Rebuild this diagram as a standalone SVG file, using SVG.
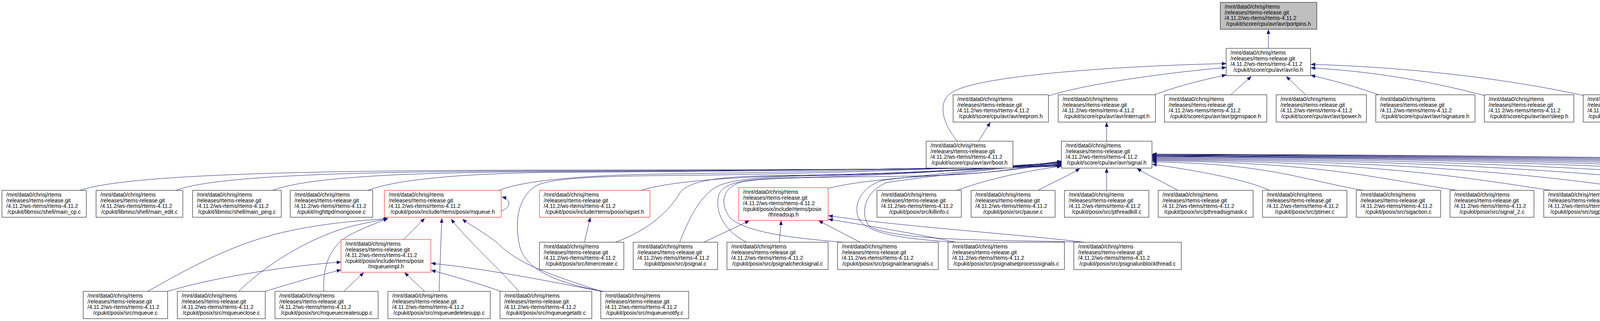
<svg xmlns="http://www.w3.org/2000/svg" width="6837" height="823" viewBox="0 0 6837 823">
<style>
.n rect{fill:#fff;stroke:#000;stroke-width:1}
.r rect{stroke:#ff0000}
.top rect{fill:#bfbfbf}
text{font-family:"Liberation Sans",Arial,sans-serif;font-size:14px;fill:#000}
.c{text-anchor:middle}
#edges path{fill:none;stroke:#191970;stroke-width:1;marker-end:url(#ah)}
</style>
<defs>
<marker id="ah" viewBox="0 0 11 9" refX="11" refY="4.5" markerWidth="11" markerHeight="9" orient="auto" markerUnits="userSpaceOnUse"><path d="M0,0 L11,4.5 L0,9 Z" fill="#191970" stroke="#191970" stroke-width="0.5"/></marker>
</defs>
<rect width="6837" height="823" fill="#fff"/>
<g id="edges">
<path d="M3247,124 L3247,76"/>
<path d="M2684,246 C2780,215 2980,187 3139,173"/>
<path d="M2956,243 C3020,218 3090,203 3139,192"/>
<path d="M3151,243 L3203,196"/>
<path d="M3342,243 L3293,196"/>
<path d="M3529,243 C3480,225 3420,208 3356,193"/>
<path d="M3800,245 C3650,205 3500,182 3356,174"/>
<path d="M4055,245 C3850,200 3600,172 3356,165"/>
<path d="M2451,362 C2415,320 2395,260 2440,235 C2520,190 2900,168 3139,163"/>
<path d="M2505,362 L2535,314"/>
<path d="M2833,362 L2833,314"/>
<path d="M3250,488 C3190,460 3060,437 2950,421"/>
<path d="M3490,488 C3328,460 3252,420 2950,415"/>
<path d="M3730,488 C3510,455 3387,417 2950,412"/>
<path d="M3970,488 C3750,455 3521,415 2950,410"/>
<path d="M4210,488 C3990,455 3656,413 2950,408"/>
<path d="M4455,488 C4235,455 3793,411 2950,406"/>
<path d="M4695,488 C4475,455 3927,409 2950,404"/>
<path d="M4938,488 C4718,455 4063,407 2950,402"/>
<path d="M5178,488 C4958,455 4198,406 2950,401"/>
<path d="M5418,488 C5198,455 4332,405 2950,400"/>
<path d="M5658,488 C5438,455 4466,404 2950,399"/>
<path d="M5898,488 C5678,455 4601,403 2950,398"/>
<path d="M6138,488 C5918,455 4735,402 2950,397"/>
<path d="M6378,488 C6158,455 4870,401 2950,396"/>
<path d="M6618,488 C6398,455 5004,400 2950,395"/>
<path d="M3015,488 C2975,465 2940,450 2911,432"/>
<path d="M2833,488 L2833,432"/>
<path d="M2658,488 C2700,465 2740,448 2764,432"/>
<path d="M2450,488 C2530,458 2630,438 2717,426"/>
<path d="M204,488 C330,446 800,437 1400,436 C2000,435 2550,434 2717,426"/>
<path d="M451,488 C550,450 900,440 1400,438 C2000,437 2550,433 2717,425"/>
<path d="M698,488 C790,453 1050,442 1400,440 C2000,438 2550,431 2717,424"/>
<path d="M942,488 C1020,458 1200,445 1400,442 C2000,439 2550,430 2717,423"/>
<path d="M1278,488 C1340,462 1500,449 1700,446 C2100,441 2550,428 2717,422"/>
<path d="M1642,488 C1720,463 1900,452 2100,449 C2400,444 2600,427 2717,421"/>
<path d="M2120,483 C2200,462 2350,452 2450,447 C2580,440 2660,425 2717,419"/>
<path d="M1576,621 C1660,590 1715,540 1740,495 C1765,462 1840,452 2000,450 C2350,446 2600,426 2717,418"/>
<path d="M1740,621 C1760,570 1790,500 1840,476 C1890,455 2000,452 2100,450 C2400,445 2600,424 2717,417"/>
<path d="M1911,621 C1850,590 1830,540 1840,500 C1850,470 1900,460 2000,456 C2350,450 2600,424 2717,416"/>
<path d="M2158,621 C2050,612 1920,600 1870,560 C1840,520 1850,480 1900,466 C1980,452 2200,455 2400,450 C2550,445 2650,424 2717,415"/>
<path d="M2440,621 C2350,614 2240,606 2205,570 C2180,540 2195,482 2260,462 C2400,445 2600,428 2717,414"/>
<path d="M2765,621 C2600,614 2300,622 2225,580 C2200,545 2215,490 2270,468 C2400,448 2600,430 2717,413"/>
<path d="M1545,747 C1420,725 1345,690 1330,630 C1315,560 1330,500 1375,475 C1420,455 1550,452 1700,450 C2100,447 2550,428 2717,417"/>
<path d="M1283,541 C1306,534 1312,512 1285,505"/>
<path d="M1033,614 L1087,560"/>
<path d="M378,747 C480,690 600,620 750,590 C870,566 950,565 993,560"/>
<path d="M611,747 C700,660 820,600 900,580 C950,568 975,565 993,560"/>
<path d="M829,747 C826,690 840,630 900,600 C940,580 970,570 993,560"/>
<path d="M1124,747 L1131,560"/>
<path d="M1328,747 C1280,690 1200,620 1155,562"/>
<path d="M1538,747 C1400,700 1330,680 1270,620 C1230,590 1200,575 1184,562"/>
<path d="M429,747 C550,710 750,680 873,672"/>
<path d="M679,747 C750,725 820,705 873,692"/>
<path d="M880,747 L931,699"/>
<path d="M1087,747 L1036,699"/>
<path d="M1282,747 C1220,725 1160,708 1104,693"/>
<path d="M1540,747 C1400,720 1250,690 1104,675"/>
<path d="M1802,621 L1918,566"/>
<path d="M1995,621 L2000,566"/>
<path d="M2202,621 L2096,566"/>
<path d="M2447,621 C2350,600 2200,575 2121,562"/>
<path d="M2775,621 C2600,600 2300,580 2121,553"/>
<path d="M1496,621 L1511,558"/>
</g>
<g id="n-portpins" class="n top"><rect x="3124" y="6" width="247" height="69"/><text><tspan x="3135" y="22">/mnt/data0/chrisj/rtems</tspan><tspan x="3135" y="36.6">/releases/rtems-release.git</tspan><tspan x="3135" y="51.2">/4.11.2/ws-rtems/rtems-4.11.2</tspan></text><text class="c" x="3247.5" y="65.8">/cpukit/score/cpu/avr/avr/portpins.h</text></g>
<g id="n-io" class="n"><rect x="3139" y="124" width="216" height="70"/><text><tspan x="3150" y="140">/mnt/data0/chrisj/rtems</tspan><tspan x="3150" y="154.6">/releases/rtems-release.git</tspan><tspan x="3150" y="169.2">/4.11.2/ws-rtems/rtems-4.11.2</tspan></text><text class="c" x="3247" y="183.8">/cpukit/score/cpu/avr/avr/io.h</text></g>
<g id="n-eeprom" class="n"><rect x="2440" y="243" width="244" height="70"/><text><tspan x="2451" y="259">/mnt/data0/chrisj/rtems</tspan><tspan x="2451" y="273.6">/releases/rtems-release.git</tspan><tspan x="2451" y="288.2">/4.11.2/ws-rtems/rtems-4.11.2</tspan></text><text class="c" x="2562" y="302.8">/cpukit/score/cpu/avr/avr/eeprom.h</text></g>
<g id="n-interrupt" class="n"><rect x="2709" y="243" width="249" height="70"/><text><tspan x="2720" y="259">/mnt/data0/chrisj/rtems</tspan><tspan x="2720" y="273.6">/releases/rtems-release.git</tspan><tspan x="2720" y="288.2">/4.11.2/ws-rtems/rtems-4.11.2</tspan></text><text class="c" x="2833.5" y="302.8">/cpukit/score/cpu/avr/avr/interrupt.h</text></g>
<g id="n-pgmspace" class="n"><rect x="2981" y="243" width="262" height="70"/><text><tspan x="2992" y="259">/mnt/data0/chrisj/rtems</tspan><tspan x="2992" y="273.6">/releases/rtems-release.git</tspan><tspan x="2992" y="288.2">/4.11.2/ws-rtems/rtems-4.11.2</tspan></text><text class="c" x="3112" y="302.8">/cpukit/score/cpu/avr/avr/pgmspace.h</text></g>
<g id="n-power" class="n"><rect x="3267" y="243" width="231" height="70"/><text><tspan x="3278" y="259">/mnt/data0/chrisj/rtems</tspan><tspan x="3278" y="273.6">/releases/rtems-release.git</tspan><tspan x="3278" y="288.2">/4.11.2/ws-rtems/rtems-4.11.2</tspan></text><text class="c" x="3382.5" y="302.8">/cpukit/score/cpu/avr/avr/power.h</text></g>
<g id="n-signature" class="n"><rect x="3522" y="243" width="254" height="70"/><text><tspan x="3533" y="259">/mnt/data0/chrisj/rtems</tspan><tspan x="3533" y="273.6">/releases/rtems-release.git</tspan><tspan x="3533" y="288.2">/4.11.2/ws-rtems/rtems-4.11.2</tspan></text><text class="c" x="3649" y="302.8">/cpukit/score/cpu/avr/avr/signature.h</text></g>
<g id="n-sleep" class="n"><rect x="3800" y="243" width="229" height="70"/><text><tspan x="3811" y="259">/mnt/data0/chrisj/rtems</tspan><tspan x="3811" y="273.6">/releases/rtems-release.git</tspan><tspan x="3811" y="288.2">/4.11.2/ws-rtems/rtems-4.11.2</tspan></text><text class="c" x="3914.5" y="302.8">/cpukit/score/cpu/avr/avr/sleep.h</text></g>
<g id="n-wdt" class="n"><rect x="4053" y="243" width="216" height="70"/><text><tspan x="4064" y="259">/mnt/data0/chrisj/rtems</tspan><tspan x="4064" y="273.6">/releases/rtems-release.git</tspan><tspan x="4064" y="288.2">/4.11.2/ws-rtems/rtems-4.11.2</tspan></text><text class="c" x="4161" y="302.8">/cpukit/score/cpu/avr/avr/wdt.h</text></g>
<g id="n-boot" class="n"><rect x="2371" y="362" width="222" height="69"/><text><tspan x="2382" y="378">/mnt/data0/chrisj/rtems</tspan><tspan x="2382" y="392.6">/releases/rtems-release.git</tspan><tspan x="2382" y="407.2">/4.11.2/ws-rtems/rtems-4.11.2</tspan></text><text class="c" x="2482" y="421.8">/cpukit/score/cpu/avr/avr/boot.h</text></g>
<g id="n-signal" class="n"><rect x="2717" y="362" width="232" height="69"/><text><tspan x="2728" y="378">/mnt/data0/chrisj/rtems</tspan><tspan x="2728" y="392.6">/releases/rtems-release.git</tspan><tspan x="2728" y="407.2">/4.11.2/ws-rtems/rtems-4.11.2</tspan></text><text class="c" x="2833" y="421.8">/cpukit/score/cpu/avr/avr/signal.h</text></g>
<g id="n-main_cp" class="n"><rect x="5" y="488" width="216" height="69"/><text><tspan x="16" y="504">/mnt/data0/chrisj/rtems</tspan><tspan x="16" y="518.6">/releases/rtems-release.git</tspan><tspan x="16" y="533.2">/4.11.2/ws-rtems/rtems-4.11.2</tspan></text><text class="c" x="113" y="547.8">/cpukit/libmisc/shell/main_cp.c</text></g>
<g id="n-main_edit" class="n"><rect x="246" y="488" width="222" height="69"/><text><tspan x="257" y="504">/mnt/data0/chrisj/rtems</tspan><tspan x="257" y="518.6">/releases/rtems-release.git</tspan><tspan x="257" y="533.2">/4.11.2/ws-rtems/rtems-4.11.2</tspan></text><text class="c" x="357" y="547.8">/cpukit/libmisc/shell/main_edit.c</text></g>
<g id="n-main_ping" class="n"><rect x="493" y="488" width="227" height="69"/><text><tspan x="504" y="504">/mnt/data0/chrisj/rtems</tspan><tspan x="504" y="518.6">/releases/rtems-release.git</tspan><tspan x="504" y="533.2">/4.11.2/ws-rtems/rtems-4.11.2</tspan></text><text class="c" x="606.5" y="547.8">/cpukit/libmisc/shell/main_ping.c</text></g>
<g id="n-mongoose" class="n"><rect x="743" y="488" width="211" height="69"/><text><tspan x="754" y="504">/mnt/data0/chrisj/rtems</tspan><tspan x="754" y="518.6">/releases/rtems-release.git</tspan><tspan x="754" y="533.2">/4.11.2/ws-rtems/rtems-4.11.2</tspan></text><text class="c" x="848.5" y="547.8">/cpukit/mghttpd/mongoose.c</text></g>
<g id="n-mqueue_h" class="n r"><rect x="984" y="488" width="299" height="69"/><text><tspan x="995" y="504">/mnt/data0/chrisj/rtems</tspan><tspan x="995" y="518.6">/releases/rtems-release.git</tspan><tspan x="995" y="533.2">/4.11.2/ws-rtems/rtems-4.11.2</tspan></text><text class="c" x="1133.5" y="547.8">/cpukit/posix/include/rtems/posix/mqueue.h</text></g>
<g id="n-sigset" class="n r"><rect x="1381" y="488" width="283" height="69"/><text><tspan x="1392" y="504">/mnt/data0/chrisj/rtems</tspan><tspan x="1392" y="518.6">/releases/rtems-release.git</tspan><tspan x="1392" y="533.2">/4.11.2/ws-rtems/rtems-4.11.2</tspan></text><text class="c" x="1522.5" y="547.8">/cpukit/posix/include/rtems/posix/sigset.h</text></g>
<g id="n-threadsup" class="n r"><rect x="1891" y="481" width="229" height="84"/><text><tspan x="1902" y="497">/mnt/data0/chrisj/rtems</tspan><tspan x="1902" y="511.6">/releases/rtems-release.git</tspan><tspan x="1902" y="526.2">/4.11.2/ws-rtems/rtems-4.11.2</tspan><tspan x="1902" y="540.8">/cpukit/posix/include/rtems/posix</tspan></text><text class="c" x="2005.5" y="555.4">/threadsup.h</text></g>
<g id="n-killinfo" class="n"><rect x="2245" y="488" width="216" height="69"/><text><tspan x="2256" y="504">/mnt/data0/chrisj/rtems</tspan><tspan x="2256" y="518.6">/releases/rtems-release.git</tspan><tspan x="2256" y="533.2">/4.11.2/ws-rtems/rtems-4.11.2</tspan></text><text class="c" x="2353" y="547.8">/cpukit/posix/src/killinfo.c</text></g>
<g id="n-pause" class="n"><rect x="2486" y="488" width="215" height="69"/><text><tspan x="2497" y="504">/mnt/data0/chrisj/rtems</tspan><tspan x="2497" y="518.6">/releases/rtems-release.git</tspan><tspan x="2497" y="533.2">/4.11.2/ws-rtems/rtems-4.11.2</tspan></text><text class="c" x="2593.5" y="547.8">/cpukit/posix/src/pause.c</text></g>
<g id="n-pthreadkill" class="n"><rect x="2725" y="488" width="216" height="69"/><text><tspan x="2736" y="504">/mnt/data0/chrisj/rtems</tspan><tspan x="2736" y="518.6">/releases/rtems-release.git</tspan><tspan x="2736" y="533.2">/4.11.2/ws-rtems/rtems-4.11.2</tspan></text><text class="c" x="2833" y="547.8">/cpukit/posix/src/pthreadkill.c</text></g>
<g id="n-pthreadsigmask" class="n"><rect x="2965" y="488" width="243" height="69"/><text><tspan x="2976" y="504">/mnt/data0/chrisj/rtems</tspan><tspan x="2976" y="518.6">/releases/rtems-release.git</tspan><tspan x="2976" y="533.2">/4.11.2/ws-rtems/rtems-4.11.2</tspan></text><text class="c" x="3086.5" y="547.8">/cpukit/posix/src/pthreadsigmask.c</text></g>
<g id="n-ptimer" class="n"><rect x="3232" y="488" width="216" height="69"/><text><tspan x="3243" y="504">/mnt/data0/chrisj/rtems</tspan><tspan x="3243" y="518.6">/releases/rtems-release.git</tspan><tspan x="3243" y="533.2">/4.11.2/ws-rtems/rtems-4.11.2</tspan></text><text class="c" x="3340" y="547.8">/cpukit/posix/src/ptimer.c</text></g>
<g id="n-sigaction" class="n"><rect x="3472" y="488" width="216" height="69"/><text><tspan x="3483" y="504">/mnt/data0/chrisj/rtems</tspan><tspan x="3483" y="518.6">/releases/rtems-release.git</tspan><tspan x="3483" y="533.2">/4.11.2/ws-rtems/rtems-4.11.2</tspan></text><text class="c" x="3580" y="547.8">/cpukit/posix/src/sigaction.c</text></g>
<g id="n-signal_2" class="n"><rect x="3712" y="488" width="215" height="69"/><text><tspan x="3723" y="504">/mnt/data0/chrisj/rtems</tspan><tspan x="3723" y="518.6">/releases/rtems-release.git</tspan><tspan x="3723" y="533.2">/4.11.2/ws-rtems/rtems-4.11.2</tspan></text><text class="c" x="3819.5" y="547.8">/cpukit/posix/src/signal_2.c</text></g>
<g id="n-sigpending" class="n"><rect x="3952" y="488" width="216" height="69"/><text><tspan x="3963" y="504">/mnt/data0/chrisj/rtems</tspan><tspan x="3963" y="518.6">/releases/rtems-release.git</tspan><tspan x="3963" y="533.2">/4.11.2/ws-rtems/rtems-4.11.2</tspan></text><text class="c" x="4060" y="547.8">/cpukit/posix/src/sigpending.c</text></g>
<g id="n-sigprocmask" class="n"><rect x="4192" y="488" width="221" height="69"/><text><tspan x="4203" y="504">/mnt/data0/chrisj/rtems</tspan><tspan x="4203" y="518.6">/releases/rtems-release.git</tspan><tspan x="4203" y="533.2">/4.11.2/ws-rtems/rtems-4.11.2</tspan></text><text class="c" x="4302.5" y="547.8">/cpukit/posix/src/sigprocmask.c</text></g>
<g id="n-sigsuspend" class="n"><rect x="4437" y="488" width="216" height="69"/><text><tspan x="4448" y="504">/mnt/data0/chrisj/rtems</tspan><tspan x="4448" y="518.6">/releases/rtems-release.git</tspan><tspan x="4448" y="533.2">/4.11.2/ws-rtems/rtems-4.11.2</tspan></text><text class="c" x="4545" y="547.8">/cpukit/posix/src/sigsuspend.c</text></g>
<g id="n-sigtimedwait" class="n"><rect x="4677" y="488" width="219" height="69"/><text><tspan x="4688" y="504">/mnt/data0/chrisj/rtems</tspan><tspan x="4688" y="518.6">/releases/rtems-release.git</tspan><tspan x="4688" y="533.2">/4.11.2/ws-rtems/rtems-4.11.2</tspan></text><text class="c" x="4786.5" y="547.8">/cpukit/posix/src/sigtimedwait.c</text></g>
<g id="n-sigwait" class="n"><rect x="4920" y="488" width="216" height="69"/><text><tspan x="4931" y="504">/mnt/data0/chrisj/rtems</tspan><tspan x="4931" y="518.6">/releases/rtems-release.git</tspan><tspan x="4931" y="533.2">/4.11.2/ws-rtems/rtems-4.11.2</tspan></text><text class="c" x="5028" y="547.8">/cpukit/posix/src/sigwait.c</text></g>
<g id="n-sigwaitinfo" class="n"><rect x="5160" y="488" width="216" height="69"/><text><tspan x="5171" y="504">/mnt/data0/chrisj/rtems</tspan><tspan x="5171" y="518.6">/releases/rtems-release.git</tspan><tspan x="5171" y="533.2">/4.11.2/ws-rtems/rtems-4.11.2</tspan></text><text class="c" x="5268" y="547.8">/cpukit/posix/src/sigwaitinfo.c</text></g>
<g id="n-timertsr" class="n"><rect x="5400" y="488" width="216" height="69"/><text><tspan x="5411" y="504">/mnt/data0/chrisj/rtems</tspan><tspan x="5411" y="518.6">/releases/rtems-release.git</tspan><tspan x="5411" y="533.2">/4.11.2/ws-rtems/rtems-4.11.2</tspan></text><text class="c" x="5508" y="547.8">/cpukit/posix/src/timertsr.c</text></g>
<g id="n-ualarm" class="n"><rect x="5640" y="488" width="216" height="69"/><text><tspan x="5651" y="504">/mnt/data0/chrisj/rtems</tspan><tspan x="5651" y="518.6">/releases/rtems-release.git</tspan><tspan x="5651" y="533.2">/4.11.2/ws-rtems/rtems-4.11.2</tspan></text><text class="c" x="5748" y="547.8">/cpukit/posix/src/ualarm.c</text></g>
<g id="n-rtemsmain" class="n"><rect x="5880" y="488" width="215" height="69"/><text><tspan x="5891" y="504">/mnt/data0/chrisj/rtems</tspan><tspan x="5891" y="518.6">/releases/rtems-release.git</tspan><tspan x="5891" y="533.2">/4.11.2/ws-rtems/rtems-4.11.2</tspan></text><text class="c" x="5987.5" y="547.8">/cpukit/pppd/rtemsmain.c</text></g>
<g id="n-sys-rtems" class="n"><rect x="6120" y="488" width="216" height="69"/><text><tspan x="6131" y="504">/mnt/data0/chrisj/rtems</tspan><tspan x="6131" y="518.6">/releases/rtems-release.git</tspan><tspan x="6131" y="533.2">/4.11.2/ws-rtems/rtems-4.11.2</tspan></text><text class="c" x="6228" y="547.8">/cpukit/pppd/sys-rtems.c</text></g>
<g id="n-utils" class="n"><rect x="6360" y="488" width="215" height="69"/><text><tspan x="6371" y="504">/mnt/data0/chrisj/rtems</tspan><tspan x="6371" y="518.6">/releases/rtems-release.git</tspan><tspan x="6371" y="533.2">/4.11.2/ws-rtems/rtems-4.11.2</tspan></text><text class="c" x="6467.5" y="547.8">/cpukit/pppd/utils.c</text></g>
<g id="n-sse_test" class="n"><rect x="6600" y="488" width="211" height="69"/><text><tspan x="6611" y="504">/mnt/data0/chrisj/rtems</tspan><tspan x="6611" y="518.6">/releases/rtems-release.git</tspan><tspan x="6611" y="533.2">/4.11.2/ws-rtems/rtems-4.11.2</tspan></text><text class="c" x="6705.5" y="547.8">/cpukit/score/cpu/i386/sse_test.c</text></g>
<g id="n-mqueueimpl" class="n r"><rect x="873" y="614" width="230" height="84"/><text><tspan x="884" y="630">/mnt/data0/chrisj/rtems</tspan><tspan x="884" y="644.6">/releases/rtems-release.git</tspan><tspan x="884" y="659.2">/4.11.2/ws-rtems/rtems-4.11.2</tspan><tspan x="884" y="673.8">/cpukit/posix/include/rtems/posix</tspan></text><text class="c" x="988" y="688.4">/mqueueimpl.h</text></g>
<g id="n-timercreate" class="n"><rect x="1381" y="621" width="216" height="70"/><text><tspan x="1392" y="637">/mnt/data0/chrisj/rtems</tspan><tspan x="1392" y="651.6">/releases/rtems-release.git</tspan><tspan x="1392" y="666.2">/4.11.2/ws-rtems/rtems-4.11.2</tspan></text><text class="c" x="1489" y="680.8">/cpukit/posix/src/timercreate.c</text></g>
<g id="n-psignal" class="n"><rect x="1621" y="621" width="216" height="70"/><text><tspan x="1632" y="637">/mnt/data0/chrisj/rtems</tspan><tspan x="1632" y="651.6">/releases/rtems-release.git</tspan><tspan x="1632" y="666.2">/4.11.2/ws-rtems/rtems-4.11.2</tspan></text><text class="c" x="1729" y="680.8">/cpukit/posix/src/psignal.c</text></g>
<g id="n-psignalchecksignal" class="n"><rect x="1861" y="621" width="259" height="70"/><text><tspan x="1872" y="637">/mnt/data0/chrisj/rtems</tspan><tspan x="1872" y="651.6">/releases/rtems-release.git</tspan><tspan x="1872" y="666.2">/4.11.2/ws-rtems/rtems-4.11.2</tspan></text><text class="c" x="1990.5" y="680.8">/cpukit/posix/src/psignalchecksignal.c</text></g>
<g id="n-psignalclearsignals" class="n"><rect x="2144" y="621" width="258" height="70"/><text><tspan x="2155" y="637">/mnt/data0/chrisj/rtems</tspan><tspan x="2155" y="651.6">/releases/rtems-release.git</tspan><tspan x="2155" y="666.2">/4.11.2/ws-rtems/rtems-4.11.2</tspan></text><text class="c" x="2273" y="680.8">/cpukit/posix/src/psignalclearsignals.c</text></g>
<g id="n-psignalsetprocesssignals" class="n"><rect x="2427" y="621" width="298" height="70"/><text><tspan x="2438" y="637">/mnt/data0/chrisj/rtems</tspan><tspan x="2438" y="651.6">/releases/rtems-release.git</tspan><tspan x="2438" y="666.2">/4.11.2/ws-rtems/rtems-4.11.2</tspan></text><text class="c" x="2576" y="680.8">/cpukit/posix/src/psignalsetprocesssignals.c</text></g>
<g id="n-psignalunblockthread" class="n"><rect x="2749" y="621" width="275" height="70"/><text><tspan x="2760" y="637">/mnt/data0/chrisj/rtems</tspan><tspan x="2760" y="651.6">/releases/rtems-release.git</tspan><tspan x="2760" y="666.2">/4.11.2/ws-rtems/rtems-4.11.2</tspan></text><text class="c" x="2886.5" y="680.8">/cpukit/posix/src/psignalunblockthread.c</text></g>
<g id="n-mqueue_c" class="n"><rect x="213" y="747" width="216" height="70"/><text><tspan x="224" y="763">/mnt/data0/chrisj/rtems</tspan><tspan x="224" y="777.6">/releases/rtems-release.git</tspan><tspan x="224" y="792.2">/4.11.2/ws-rtems/rtems-4.11.2</tspan></text><text class="c" x="321" y="806.8">/cpukit/posix/src/mqueue.c</text></g>
<g id="n-mqueueclose" class="n"><rect x="454" y="747" width="225" height="70"/><text><tspan x="465" y="763">/mnt/data0/chrisj/rtems</tspan><tspan x="465" y="777.6">/releases/rtems-release.git</tspan><tspan x="465" y="792.2">/4.11.2/ws-rtems/rtems-4.11.2</tspan></text><text class="c" x="566.5" y="806.8">/cpukit/posix/src/mqueueclose.c</text></g>
<g id="n-mqueuecreatesupp" class="n"><rect x="704" y="747" width="264" height="70"/><text><tspan x="715" y="763">/mnt/data0/chrisj/rtems</tspan><tspan x="715" y="777.6">/releases/rtems-release.git</tspan><tspan x="715" y="792.2">/4.11.2/ws-rtems/rtems-4.11.2</tspan></text><text class="c" x="836" y="806.8">/cpukit/posix/src/mqueuecreatesupp.c</text></g>
<g id="n-mqueuedeletesupp" class="n"><rect x="993" y="747" width="262" height="70"/><text><tspan x="1004" y="763">/mnt/data0/chrisj/rtems</tspan><tspan x="1004" y="777.6">/releases/rtems-release.git</tspan><tspan x="1004" y="792.2">/4.11.2/ws-rtems/rtems-4.11.2</tspan></text><text class="c" x="1124" y="806.8">/cpukit/posix/src/mqueuedeletesupp.c</text></g>
<g id="n-mqueuegetattr" class="n"><rect x="1280" y="747" width="235" height="70"/><text><tspan x="1291" y="763">/mnt/data0/chrisj/rtems</tspan><tspan x="1291" y="777.6">/releases/rtems-release.git</tspan><tspan x="1291" y="792.2">/4.11.2/ws-rtems/rtems-4.11.2</tspan></text><text class="c" x="1397.5" y="806.8">/cpukit/posix/src/mqueuegetattr.c</text></g>
<g id="n-mqueuenotify" class="n"><rect x="1538" y="747" width="225" height="70"/><text><tspan x="1549" y="763">/mnt/data0/chrisj/rtems</tspan><tspan x="1549" y="777.6">/releases/rtems-release.git</tspan><tspan x="1549" y="792.2">/4.11.2/ws-rtems/rtems-4.11.2</tspan></text><text class="c" x="1650.5" y="806.8">/cpukit/posix/src/mqueuenotify.c</text></g>
</svg>
